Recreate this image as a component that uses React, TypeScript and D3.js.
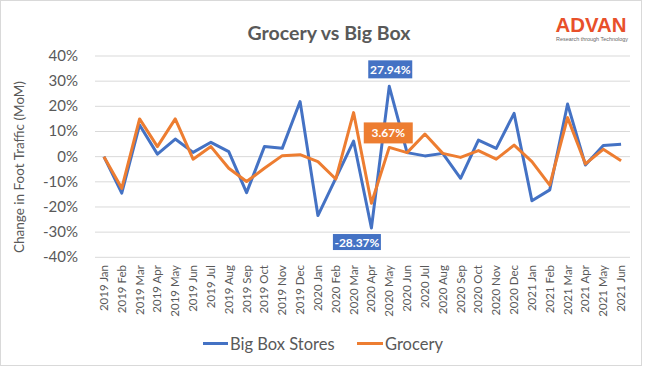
import React from "react";
import * as d3 from "d3";

const categories = [
  "2019 Jan","2019 Feb","2019 Mar","2019 Apr","2019 May","2019 Jun","2019 Jul","2019 Aug","2019 Sep","2019 Oct","2019 Nov","2019 Dec",
  "2020 Jan","2020 Feb","2020 Mar","2020 Apr","2020 May","2020 Jun","2020 Jul","2020 Aug","2020 Sep","2020 Oct","2020 Nov","2020 Dec",
  "2021 Jan","2021 Feb","2021 Mar","2021 Apr","2021 May","2021 Jun",
];
const bigBox = [
  0, -14.5, 12.6, 1.0, 7.0, 1.7, 5.7, 2.0, -14.3, 4.0, 3.3, 21.9,
  -23.4, -8.6, 6.2, -28.37, 27.94, 1.6, 0.3, 1.3, -8.6, 6.6, 3.3, 17.2,
  -17.5, -13.2, 20.9, -3.3, 4.4, 4.9,
];
const grocery = [
  0, -12.6, 15.0, 4.0, 15.0, -1.0, 4.0, -4.6, -9.9, -4.6, 0.4, 0.8,
  -2.0, -8.9, 17.5, -18.5, 3.67, 1.6, 9.0, 1.3, -0.3, 2.4, -1.0, 4.6,
  -2.0, -11.3, 15.5, -2.9, 2.9, -1.6,
];
const yTicks = [40, 30, 20, 10, 0, -10, -20, -30, -40];
const seriesNames = ["Big Box Stores", "Grocery"];
const colors = ["#4472C4", "#ED7D31"];

const W = 645, H = 367;
const FONT = "Lato, 'Open Sans', sans-serif";

export default function App() {
  const x = d3.scaleBand<string>().domain(categories).range([95, 630]);
  const y = d3.scaleLinear().domain([-40, 40]).range([257.3, 56]);
  const cx = (c: string) => (x(c) as number) + x.bandwidth() / 2;
  const line = d3.line<number>().x((_, i) => cx(categories[i])).y((d) => y(d));
  const series = [bigBox, grocery];

  const iApr = categories.indexOf("2020 Apr");
  const iMay = categories.indexOf("2020 May");

  const labels = [
    { text: bigBox[iMay].toFixed(2) + "%", x: cx(categories[iMay]) + 1, y: y(bigBox[iMay]) - 17, w: 44, h: 18, color: colors[0] },
    { text: grocery[iMay].toFixed(2) + "%", x: cx(categories[iMay]) - 1, y: y(grocery[iMay]) - 14.5, w: 49, h: 21, color: colors[1] },
    { text: bigBox[iApr].toFixed(2) + "%", x: cx(categories[iApr]) - 14.5, y: y(bigBox[iApr]) + 14, w: 48, h: 16, color: colors[0] },
  ];

  return (
    <svg width={W} height={H} style={{ position: "absolute", left: 0, top: 0, background: "#fff" }}>
      <rect x={0.5} y={0.5} width={641} height={365} fill="#fff" stroke="#D9D9D9" />
      <text x={329} y={40} textAnchor="middle" fontFamily={FONT} fontWeight="bold" fontSize={19.5} fill="#595959">
        Grocery vs Big Box
      </text>
      <text x={591} y={32} textAnchor="middle" fontFamily="'Liberation Sans', Arial, sans-serif" fontWeight="bold" fontSize={19.5} fill="#E8502A" textLength={71} lengthAdjust="spacingAndGlyphs">
        ADVAN
      </text>
      <text x={592} y={41} textAnchor="middle" fontFamily="'Liberation Sans', Arial, sans-serif" fontSize={5} fill="#666" textLength={72} lengthAdjust="spacingAndGlyphs">
        Research through Technology
      </text>
      {yTicks.map((t) => (
        <g key={t}>
          <line x1={95} x2={630} y1={y(t)} y2={y(t)} stroke="#D9D9D9" strokeWidth={1} />
          <text x={78} y={y(t) + 5} textAnchor="end" fontFamily={FONT} fontSize={15} fill="#595959">
            {t}%
          </text>
        </g>
      ))}
      <text transform={`translate(24,167) rotate(-90)`} textAnchor="middle" fontFamily={FONT} fontSize={13.5} fill="#595959">
        Change in Foot Traffic (MoM)
      </text>
      {categories.map((c) => (
        <text key={c} transform={`translate(${cx(c) + 4},265) rotate(-90)`} textAnchor="end" fontFamily={FONT} fontSize={11.5} fill="#595959">
          {c}
        </text>
      ))}
      {series.map((s, i) => (
        <path key={i} d={line(s) as string} fill="none" stroke={colors[i]} strokeWidth={3} strokeLinejoin="round" />
      ))}
      {labels.map((l, i) => (
        <g key={i}>
          <rect x={l.x - l.w / 2} y={l.y - l.h / 2} width={l.w} height={l.h} fill={l.color} />
          <text x={l.x} y={l.y + 4.5} textAnchor="middle" fontFamily={FONT} fontWeight="bold" fontSize={12} fill="#fff">
            {l.text}
          </text>
        </g>
      ))}
      <line x1={203} x2={228} y1={343.5} y2={343.5} stroke={colors[0]} strokeWidth={3} />
      <text x={230} y={349.5} fontFamily={FONT} fontSize={16.5} fill="#595959">{seriesNames[0]}</text>
      <line x1={357} x2={383} y1={343.5} y2={343.5} stroke={colors[1]} strokeWidth={3} />
      <text x={385} y={349.5} fontFamily={FONT} fontSize={16.5} fill="#595959">{seriesNames[1]}</text>
    </svg>
  );
}
